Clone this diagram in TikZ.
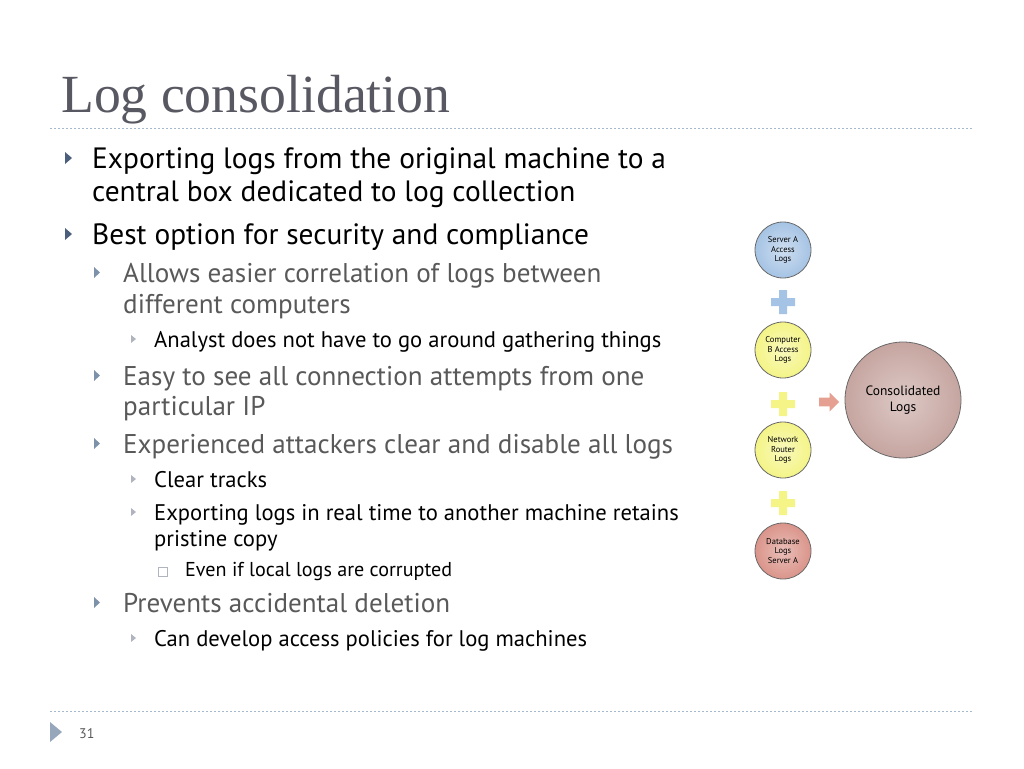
\documentclass[tikz,border=0pt]{standalone}
\usepackage{fontspec}
\setmainfont{PT Sans}
\newfontfamily\titlefont{Liberation Serif}
\usetikzlibrary{shapes.arrows}

\definecolor{titlegray}{RGB}{88,88,98}
\definecolor{rulegray}{RGB}{165,185,205}
\definecolor{bulA}{RGB}{75,95,125}
\definecolor{bulB}{RGB}{125,145,170}
\definecolor{bulC}{RGB}{175,180,190}
\definecolor{subgray}{RGB}{89,89,89}
\definecolor{logblue}{RGB}{165,195,228}
\definecolor{logyellow}{RGB}{244,244,135}
\definecolor{logpink}{RGB}{218,148,138}
\definecolor{logtaupe}{RGB}{198,165,160}
\definecolor{arrowpink}{RGB}{230,160,145}

\tikzset{
  lvl1/.style={anchor=base west, inner sep=0pt, font=\fontsize{29.4}{32}\selectfont},
  lvl2/.style={anchor=base west, inner sep=0pt, text=subgray, font=\fontsize{27.1}{30}\selectfont},
  lvl3/.style={anchor=base west, inner sep=0pt, font=\fontsize{22.6}{25}\selectfont},
  lvl4/.style={anchor=base west, inner sep=0pt, font=\fontsize{20.1}{23}\selectfont},
  logball/.style={circle, draw={rgb,255:red,105;green,105;blue,105}, line width=0.8pt,
    minimum size=56pt, inner sep=0pt, align=center,
    font=\fontsize{8.5}{9.5}\selectfont, shading=radial},
  dots/.style={rulegray, line width=1pt, dash pattern=on 2pt off 2pt}
}

\begin{document}
\begin{tikzpicture}[x=1pt, y=-1pt]
    \useasboundingbox (0,0) rectangle (1024,768);

    % title and rules
    \node[anchor=base west, inner sep=0pt, text=titlegray, font=\titlefont\fontsize{53.7}{58}\selectfont] (title) at (61,112) {Log consolidation};
    \draw[dots] (50,128) -- (972,128);
    \draw[dots] (50,711) -- (972,711);
    \fill[bulB!80] (50,722) -- (62,732) -- (50,742) -- cycle;
    \node[anchor=base west, inner sep=0pt, text=subgray, font=\fontsize{14}{16}\selectfont] (page) at (79,738) {31};

    % bullet text
    \foreach \l/\x/\y/\t in {
      1/92/168/Exporting logs from the original machine to a,
      1/92/201/central box dedicated to log collection,
      1/92/244/Best option for security and compliance,
      2/123/282/Allows easier correlation of logs between,
      2/123/313/different computers,
      3/154/347/Analyst does not have to go around gathering things,
      2/123/385/Easy to see all connection attempts from one,
      2/123/415/particular IP,
      2/123/453/Experienced attackers clear and disable all logs,
      3/154/487/Clear tracks,
      3/154/520/Exporting logs in real time to another machine retains,
      3/154/546/pristine copy,
      4/185/576/Even if local logs are corrupted,
      2/123/612/Prevents accidental deletion,
      3/154/646/Can develop access policies for log machines} {
      \node[lvl\l] at (\x,\y) {\t};
    }

    % bullet marks
    \foreach \y in {168, 244}
      \fill[bulA] (65,\y-16) -- (72,\y-10) -- (65,\y-4) -- cycle;
    \foreach \y in {282, 385, 453, 612}
      \fill[bulB] (94,\y-15) -- (100,\y-9.5) -- (94,\y-4) -- cycle;
    \foreach \y in {347, 487, 520, 646}
      \fill[bulC] (131,\y-12) -- (136,\y-8) -- (131,\y-4) -- cycle;
    \draw[bulC, line width=0.8pt] (158,567) rectangle (167,576);

    % log sources
    \node[logball, inner color=logblue!55!white, outer color=logblue] (srvA) at (783,250) {Server A\\Access\\Logs};
    \node[logball, inner color=logyellow!55!white, outer color=logyellow] (compB) at (783,350) {Computer\\B Access\\Logs};
    \node[logball, inner color=logyellow!55!white, outer color=logyellow] (router) at (783,450) {Network\\Router\\Logs};
    \node[logball, inner color=logpink!60!white, outer color=logpink] (dbA) at (783,551) {Database\\Logs\\Server A};
    \node[logball, minimum size=116pt, font=\fontsize{13.5}{15.5}\selectfont,
      inner color=logtaupe!60!white, outer color=logtaupe] (cons) at (903,400) {Consolidated\\Logs};

    % plus signs
    \foreach \c/\py in {logblue/302, logyellow/404, logyellow/503}
      \fill[\c] (779,\py-12) rectangle (787,\py+12) (771,\py-4) rectangle (795,\py+4);

    \node[single arrow, fill=arrowpink, minimum width=19pt, minimum height=20pt,
      single arrow head extend=2.5pt, inner sep=2pt] (merge) at (827,402) {};
\end{tikzpicture}
\end{document}
